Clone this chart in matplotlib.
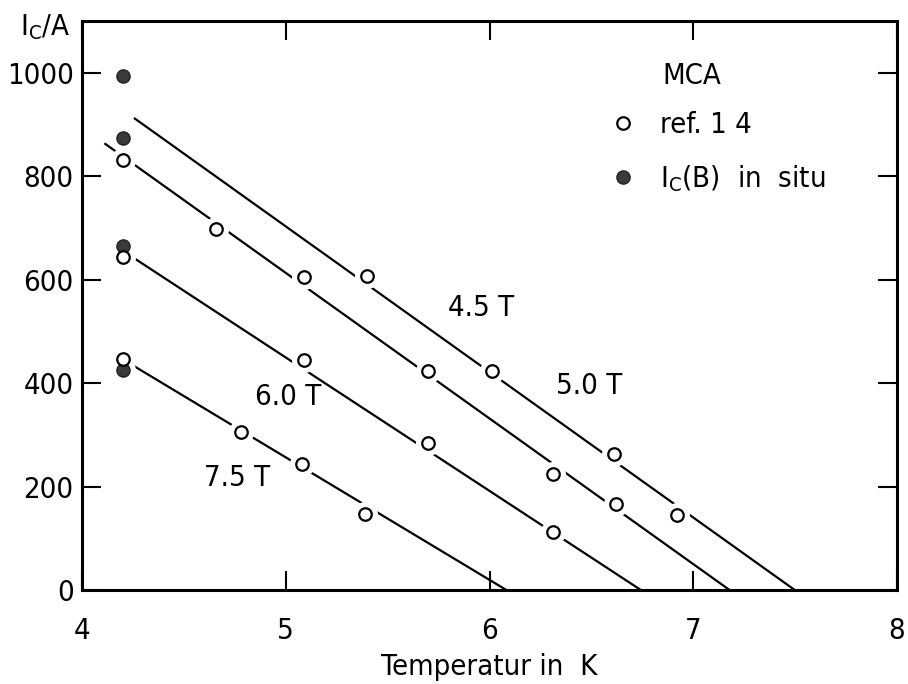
import matplotlib
matplotlib.use('Agg')
import matplotlib.pyplot as plt
from matplotlib.lines import Line2D

plt.rcParams['font.family'] = ['DejaVu Sans']
plt.rcParams['font.stretch'] = 'condensed'
plt.rcParams['mathtext.fontset'] = 'custom'
plt.rcParams['mathtext.rm'] = 'DejaVu Sans:stretch=condensed'

# ref. 14 data (open circles), per field
t_45 = [5.40, 6.01, 6.61, 6.92]
i_45 = [607, 424, 264, 146]
t_50 = [4.2, 4.66, 5.09, 5.70, 6.31, 6.62]
i_50 = [832, 699, 605, 424, 224, 166]
t_60 = [4.2, 5.09, 5.70, 6.31]
i_60 = [645, 445, 285, 112]
t_75 = [4.2, 4.78, 5.08, 5.39]
i_75 = [447, 306, 245, 148]

# in situ Ic(B) (filled circles)
t_insitu = [4.2, 4.2, 4.2, 4.2]
i_insitu = [995, 875, 665, 426]

# straight fit lines: start point and temperature where Ic reaches zero
fit_t0 = [4.255, 4.11, 4.24, 4.24]
fit_i0 = [913, 864, 646, 437]
fit_t1 = [7.50, 7.18, 6.745, 6.085]

field_labels = ['4.5 T', '5.0 T', '6.0 T', '7.5 T']
label_t = [5.96, 6.49, 5.01, 4.76]
label_i = [545, 394, 373, 218]

fig = plt.figure(figsize=(9.08, 6.84), dpi=100)
ax = fig.add_axes([0.0903, 0.137, 0.8976, 0.832])

# fit lines
for t0, i0, t1 in zip(fit_t0, fit_i0, fit_t1):
    ax.plot([t0, t1], [i0, 0], color='black', lw=1.6, zorder=2,
            solid_capstyle='butt')

open_t = t_45 + t_50 + t_60 + t_75
open_i = i_45 + i_50 + i_60 + i_75

# white halos that break the lines around the symbols
ax.plot(open_t + t_insitu, open_i + i_insitu, ls='none', marker='o',
        ms=17, mfc='white', mec='white', zorder=3)
ax.plot(t_insitu, i_insitu, ls='none', marker='o', ms=9.5,
        mfc='#3a3a3a', mec='#222222', mew=1.0, zorder=4)
ax.plot(open_t, open_i, ls='none', marker='o', ms=9,
        mfc='white', mec='black', mew=1.6, zorder=5)

for lab, t, i in zip(field_labels, label_t, label_i):
    ax.text(t, i, lab, fontsize=21, ha='center', va='center')

ax.set_xlim(4, 8)
ax.set_ylim(0, 1100)
ax.set_xticks([4, 5, 6, 7, 8])
ax.set_yticks([0, 200, 400, 600, 800, 1000])
ax.tick_params(direction='in', length=13.5, width=1.5, labelsize=21,
               top=True, right=True)
ax.tick_params(axis='x', pad=19)
ax.tick_params(axis='y', pad=6)
for s in ax.spines.values():
    s.set_linewidth(2.2)

ax.set_xlabel('Temperatur in  K', fontsize=21, labelpad=6)
ax.text(-0.076, 0.99, r'$\mathrm{I_C/A}$', transform=ax.transAxes,
        fontsize=21, ha='left', va='center')

# legend
ax.text(6.85, 995, 'MCA', fontsize=21, ha='left', va='center')
handles = [
    Line2D([], [], ls='none', marker='o', ms=9, mfc='white', mec='black', mew=1.6),
    Line2D([], [], ls='none', marker='o', ms=9.5, mfc='#3a3a3a', mec='#222222'),
]
ax.legend(handles, ['ref. 1 4', r'$\mathrm{I_C(B)\ \ in\ \ situ}$'],
          loc='upper left', bbox_to_anchor=(0.631, 0.862), frameon=False,
          fontsize=21, handletextpad=0.8, labelspacing=0.8,
          handlelength=1.0, borderaxespad=0)

fig.savefig('out.png', dpi=100)
